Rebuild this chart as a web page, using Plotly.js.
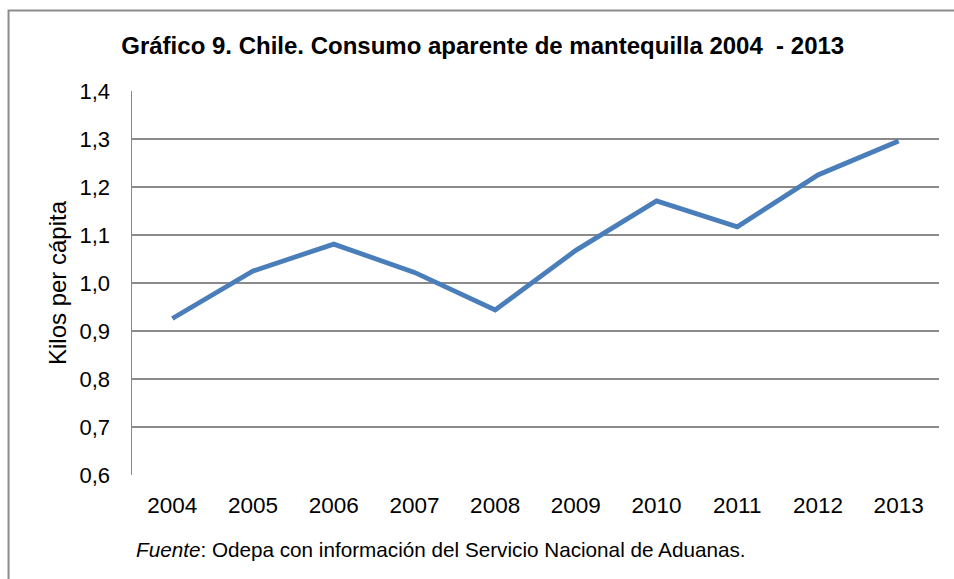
<!DOCTYPE html>
<html>
<head>
<meta charset="utf-8">
<script src="https://cdn.plot.ly/plotly-3.0.1.min.js"></script>
<style>html,body{margin:0;padding:0;background:#fff;}#chart{width:954px;height:579px;}</style>
</head>
<body>
<div id="chart"></div>
<script>
const years = ["2004","2005","2006","2007","2008","2009","2010","2011","2012","2013"];
const kilosPerCapita = [0.926, 1.025, 1.081, 1.022, 0.944, 1.068, 1.171, 1.117, 1.225, 1.296];
const yTicks = [0.6, 0.7, 0.8, 0.9, 1.0, 1.1, 1.2, 1.3, 1.4];

const titleText = "Gráfico 9. Chile. Consumo aparente de mantequilla 2004 &nbsp;- 2013";
const yTitleText = "Kilos per cápita";
const sourceText = "<i>Fuente</i>: Odepa con información del Servicio Nacional de Aduanas.";

const font = "Arial, 'Liberation Sans', sans-serif";

const trace = {
  x: years,
  y: kilosPerCapita,
  type: "scatter",
  mode: "lines",
  line: {color: "#4a7ebb", width: 4.8},
  hoverinfo: "x+y"
};

const layout = {
  width: 954,
  height: 579,
  margin: {l: 132, r: 15, t: 91, b: 104, pad: 0},
  paper_bgcolor: "#ffffff",
  plot_bgcolor: "#ffffff",
  separators: ",.",
  showlegend: false,
  font: {family: font, size: 22, color: "#000"},
  title: {
    text: "<b>" + titleText + "</b>",
    font: {family: font, size: 24, color: "#000"},
    xref: "container", x: 0.506, xanchor: "center",
    yref: "container", y: 0.921, yanchor: "middle"
  },
  xaxis: {
    type: "category",
    range: [-0.5, 9.5],
    showgrid: false,
    showline: false,
    zeroline: false,
    ticks: "",
    ticklabelstandoff: 14,
    tickfont: {family: font, size: 22.5, color: "#000"},
    fixedrange: true
  },
  yaxis: {
    range: [0.6, 1.4],
    tickvals: yTicks,
    tickformat: ".1f",
    showgrid: true,
    gridcolor: "#8a8a8a",
    gridwidth: 1.5,
    showline: true,
    linecolor: "#8a8a8a",
    linewidth: 1.5,
    zeroline: false,
    ticks: "",
    ticklabelstandoff: 16,
    tickfont: {family: font, size: 22, color: "#000"},
    title: {text: yTitleText, font: {family: font, size: 24, color: "#000"}, standoff: 6},
    fixedrange: true
  },
  shapes: [{
    type: "rect", xref: "paper", yref: "paper",
    x0: -0.153, x1: 1.05, y0: -0.35, y1: 1.2096,
    line: {color: "#8c8c8c", width: 2}, layer: "below"
  }],
  annotations: [{
    text: sourceText,
    xref: "paper", yref: "paper",
    x: 0.003, xanchor: "left",
    y: -0.195, yanchor: "middle",
    showarrow: false,
    font: {family: font, size: 20.7, color: "#000"}
  }]
};

Plotly.newPlot("chart", [trace], layout, {displayModeBar: false, staticPlot: true});
</script>
</body>
</html>
